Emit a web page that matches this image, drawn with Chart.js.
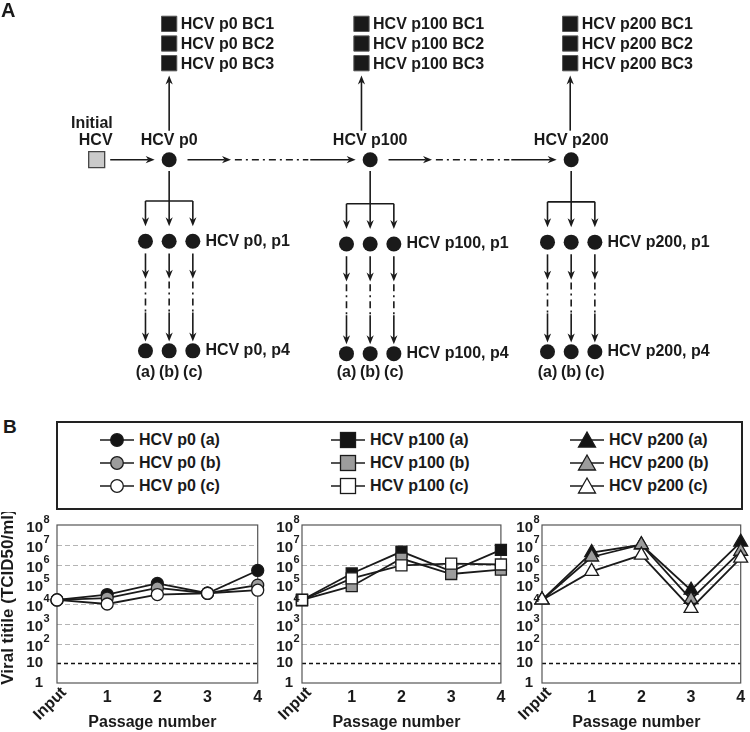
<!DOCTYPE html>
<html>
<head>
<meta charset="utf-8">
<script src="https://cdn.jsdelivr.net/npm/chart.js@4.4.1/dist/chart.umd.min.js"></script>
<style>
body{margin:0;background:#fff;}
#page{position:relative;width:750px;height:732px;overflow:hidden;font-family:"Liberation Sans",Arial,sans-serif;font-weight:bold;color:#1a1a1a;}
#page canvas{position:absolute;}
#legendBox{position:absolute;left:56px;top:421px;width:683px;height:85px;border:2px solid #222;}
.lg{position:absolute;display:flex;align-items:center;height:20px;font-size:16px;white-space:nowrap;}
.lg svg{margin-right:5px;}
</style>
</head>
<body>
<div id="page">
  <canvas id="schema" width="750" height="400" style="left:0;top:0"></canvas>
  <div style="position:absolute;left:3px;top:417px;font-size:19px;line-height:1">B</div>
  <div id="legendBox"></div>
  <canvas id="c0" width="265" height="220" style="left:0;top:512px"></canvas>
  <canvas id="c1" width="248" height="220" style="left:262px;top:512px"></canvas>
  <canvas id="c2" width="248" height="220" style="left:502px;top:512px"></canvas>
</div>
<script>
// ---- data ----
const stageNames = ['p0', 'p100', 'p200'];
const replicateNames = ['a', 'b', 'c'];
const barcodeNames = ['BC1', 'BC2', 'BC3'];
const subPassages = ['p1', 'p4'];

const passageLabels = ['Input', '1', '2', '3', '4'];
const yTickValues = [1, 10, 1e2, 1e3, 1e4, 1e5, 1e6, 1e7, 1e8];

// viral titer (TCID50/ml)
const titerP0a = [1.6e4, 3e4, 1.1e5, 3.5e4, 5e5];
const titerP0b = [1.6e4, 2e4, 6.5e4, 3.5e4, 9e4];
const titerP0c = [1.6e4, 1e4, 3e4, 3.5e4, 5e4];

const titerP100a = [1.6e4, 3.5e5, 4.5e6, 4.5e5, 5.5e6];
const titerP100b = [1.6e4, 8e4, 2e6, 3.3e5, 5.5e5];
const titerP100c = [1.6e4, 2e5, 9e5, 1.1e6, 1e6];

const titerP200a = [1.6e4, 4e6, 1e7, 5e4, 1.35e7];
const titerP200b = [1.6e4, 2.4e6, 1e7, 1.7e4, 4.7e6];
const titerP200c = [1.6e4, 4.5e5, 3e6, 6e3, 2.1e6];

// ---- look ----
const ink = '#1a1a1a';
const fills = ['#141414', '#9c9c9c', '#ffffff'];
const bold = px => `bold ${px}px "Liberation Sans", Arial, sans-serif`;

// ---- panel A (scheme) ----
const stageX = [162, 370, 578];
const stageShift = [0, 3, 1];
const bcX = [162, 361, 577];
const bcY = [12, 33, 54];
const nodeY = 157, initX = 87, barY = 201, p1Y = 244, p4Y = 361, abcY = 384, dx = 24.5;

function arrow(ctx, x1, y1, x2, y2) {
  const a = Math.atan2(y2 - y1, x2 - x1), L = 9, W = 3.6;
  const c = Math.cos(a), s = Math.sin(a);
  ctx.beginPath();
  ctx.moveTo(x1, y1);
  ctx.lineTo(x2 - c * L * 0.7, y2 - s * L * 0.7);
  ctx.stroke();
  ctx.beginPath();
  ctx.moveTo(x2, y2);
  ctx.lineTo(x2 - c * L - s * W, y2 - s * L + c * W);
  ctx.lineTo(x2 - c * L * 0.7, y2 - s * L * 0.7);
  ctx.lineTo(x2 - c * L + s * W, y2 - s * L - c * W);
  ctx.closePath();
  ctx.fill();
}
function dashDot(ctx, x1, y1, x2, y2) {
  ctx.save();
  ctx.setLineDash([7, 4, 2, 4]);
  ctx.beginPath();
  ctx.moveTo(x1, y1);
  ctx.lineTo(x2, y2);
  ctx.stroke();
  ctx.restore();
}
function seg(ctx, x1, y1, x2, y2) {
  ctx.beginPath();
  ctx.moveTo(x1, y1);
  ctx.lineTo(x2, y2);
  ctx.stroke();
}

const schemeDraw = {
  id: 'schemeDraw',
  beforeDatasetsDraw(chart) {
    const {ctx} = chart;
    const X = v => chart.scales.x.getPixelForValue(v);
    const Y = v => chart.scales.y.getPixelForValue(v);
    ctx.save();
    ctx.strokeStyle = ink;
    ctx.fillStyle = ink;
    ctx.lineWidth = 1.6;
    arrow(ctx, X(initX + 14), Y(nodeY), X(stageX[0] - 15), Y(nodeY));
    stageNames.forEach((s, i) => {
      const sx = stageX[i], sh = stageShift[i];
      if (i < stageNames.length - 1) {
        const nx = stageX[i + 1];
        arrow(ctx, X(sx + 19), Y(nodeY), X(sx + 64), Y(nodeY));
        dashDot(ctx, X(sx + 68), Y(nodeY), X(nx - 64), Y(nodeY));
        arrow(ctx, X(nx - 62), Y(nodeY), X(nx - 15), Y(nodeY));
      }
      arrow(ctx, X(bcX[i]), Y(126), X(bcX[i]), Y(67));
      seg(ctx, X(sx), Y(nodeY + 12), X(sx), Y(barY + sh));
      seg(ctx, X(sx - dx), Y(barY + sh), X(sx + dx), Y(barY + sh));
      replicateNames.forEach((r, j) => {
        const rx = sx + (j - 1) * dx;
        arrow(ctx, X(rx), Y(barY + sh), X(rx), Y(p1Y + sh - 16));
        arrow(ctx, X(rx), Y(p1Y + sh + 13), X(rx), Y(p1Y + sh + 40));
        dashDot(ctx, X(rx), Y(p1Y + sh + 43), X(rx), Y(p1Y + sh + 76));
        arrow(ctx, X(rx), Y(p1Y + sh + 76), X(rx), Y(p4Y + sh - 10));
      });
    });
    ctx.restore();
  },
  afterDatasetsDraw(chart) {
    const {ctx} = chart;
    const X = v => chart.scales.x.getPixelForValue(v);
    const Y = v => chart.scales.y.getPixelForValue(v);
    ctx.save();
    ctx.fillStyle = ink;
    ctx.font = bold(20);
    ctx.textAlign = 'left';
    ctx.textBaseline = 'alphabetic';
    ctx.fillText('A', 1, 17);
    ctx.font = bold(16);
    ctx.textBaseline = 'middle';
    ctx.textAlign = 'center';
    ctx.fillText('Initial', X(82), Y(118));
    ctx.fillText('HCV', X(86), Y(137));
    stageNames.forEach((s, i) => {
      const sx = stageX[i], sh = stageShift[i];
      ctx.textAlign = 'center';
      ctx.fillText(`HCV ${s}`, X(sx), Y(137));
      replicateNames.forEach((r, j) => ctx.fillText(`(${r})`, X(sx + (j - 1) * dx), Y(abcY)));
      ctx.textAlign = 'left';
      barcodeNames.forEach((b, k) => ctx.fillText(`HCV ${s} ${b}`, X(bcX[i] + 12), Y(bcY[k] + 1)));
      ctx.fillText(`HCV ${s}, ${subPassages[0]}`, X(sx + dx + 13), Y(p1Y + sh));
      ctx.fillText(`HCV ${s}, ${subPassages[1]}`, X(sx + dx + 13), Y(p4Y + sh));
    });
    ctx.restore();
  }
};

const replicateNodes = [];
stageNames.forEach((s, i) => replicateNames.forEach((r, j) => {
  replicateNodes.push({x: stageX[i] + (j - 1) * dx, y: p1Y + stageShift[i]});
  replicateNodes.push({x: stageX[i] + (j - 1) * dx, y: p4Y + stageShift[i]});
}));
const barcodeBoxes = [];
stageNames.forEach((s, i) => barcodeNames.forEach((b, k) => barcodeBoxes.push({x: bcX[i], y: bcY[k]})));

const nodeStyle = {pointStyle: 'circle', pointRadius: 7.5, pointBackgroundColor: ink, pointBorderColor: ink, pointBorderWidth: 0, clip: false};
new Chart(document.getElementById('schema'), {
  type: 'scatter',
  data: {
    datasets: [
      {data: [{x: initX, y: nodeY}], pointStyle: 'rect', pointRadius: 11.3, pointBackgroundColor: '#cacaca', pointBorderColor: '#444', pointBorderWidth: 1.3, clip: false},
      {data: stageNames.map((s, i) => ({x: stageX[i], y: nodeY})), ...nodeStyle},
      {data: replicateNodes, ...nodeStyle},
      {data: barcodeBoxes, pointStyle: 'rect', pointRadius: 10.8, pointBackgroundColor: ink, pointBorderColor: '#555', pointBorderWidth: 1, clip: false}
    ]
  },
  options: {
    responsive: false, animation: false, events: [],
    layout: {padding: 0},
    plugins: {legend: {display: false}, tooltip: {enabled: false}},
    scales: {
      x: {type: 'linear', min: 0, max: 750, display: false},
      y: {type: 'linear', min: 0, max: 400, reverse: true, display: false}
    }
  },
  plugins: [schemeDraw]
});

// ---- panel B legend ----
const markerShapes = ['circle', 'rect', 'triangle'];
function markerSvg(shape, fill) {
  let m;
  if (shape === 'circle') m = `<circle cx="17" cy="10" r="6.3" fill="${fill}" stroke="${ink}" stroke-width="1.3"/>`;
  else if (shape === 'rect') m = `<rect x="9.5" y="2.5" width="15" height="15" fill="${fill}" stroke="${ink}" stroke-width="1.3"/>`;
  else m = `<polygon points="17,2 25.5,17 8.5,17" fill="${fill}" stroke="${ink}" stroke-width="1.3"/>`;
  return `<svg width="34" height="20"><line x1="0" y1="10" x2="34" y2="10" stroke="${ink}" stroke-width="1.6"/>${m}</svg>`;
}
const legendBox = document.getElementById('legendBox');
const legendCols = [42, 273, 512];
const legendRows = [7, 30, 53];
stageNames.forEach((s, i) => replicateNames.forEach((r, j) => {
  const d = document.createElement('div');
  d.className = 'lg';
  d.style.left = legendCols[i] + 'px';
  d.style.top = legendRows[j] + 'px';
  d.innerHTML = markerSvg(markerShapes[i], fills[j]) + `<span>HCV ${s} (${r})</span>`;
  legendBox.appendChild(d);
}));

// ---- panel B charts ----
const axisDecor = {
  id: 'axisDecor',
  beforeDatasetsDraw(chart) {
    const {ctx, chartArea: a} = chart;
    const y = chart.scales.y;
    ctx.save();
    yTickValues.forEach(v => {
      if (v === yTickValues[0] || v === yTickValues[yTickValues.length - 1]) return;
      const py = Math.round(y.getPixelForValue(v)) + 0.5;
      ctx.beginPath();
      if (v === 10) { ctx.setLineDash([4, 3]); ctx.strokeStyle = '#111'; ctx.lineWidth = 1.6; }
      else { ctx.setLineDash([5, 3]); ctx.strokeStyle = '#b4b4b4'; ctx.lineWidth = 1; }
      ctx.moveTo(a.left, py);
      ctx.lineTo(a.right, py);
      ctx.stroke();
    });
    ctx.setLineDash([]);
    ctx.strokeStyle = '#555';
    ctx.lineWidth = 1.2;
    ctx.strokeRect(a.left, a.top, a.right - a.left, a.bottom - a.top);
    ctx.restore();
  },
  afterDraw(chart, args, opts) {
    const {ctx, chartArea: a} = chart;
    const x = chart.scales.x, y = chart.scales.y;
    ctx.save();
    ctx.fillStyle = ink;
    const lx = a.left - opts.gap;
    yTickValues.forEach(v => {
      const py = y.getPixelForValue(v);
      const e = Math.round(Math.log10(v));
      ctx.textBaseline = 'middle';
      ctx.textAlign = 'right';
      ctx.font = bold(15);
      if (e < 2) {
        ctx.fillText(String(v), lx, py);
      } else {
        ctx.fillText('10', lx, py + 3);
        ctx.font = bold(11);
        ctx.textAlign = 'left';
        ctx.fillText(String(e), lx + 0.5, py - 5);
      }
    });
    ctx.font = bold(16);
    passageLabels.forEach((lab, i) => {
      const px = x.getPixelForValue(i);
      if (i === 0) {
        ctx.save();
        ctx.translate(px + 7, a.bottom + 7);
        ctx.rotate(-Math.PI / 4);
        ctx.textAlign = 'right';
        ctx.textBaseline = 'middle';
        ctx.fillText(lab, 0, 0);
        ctx.restore();
      } else {
        ctx.textAlign = 'center';
        ctx.textBaseline = 'middle';
        ctx.fillText(lab, px, a.bottom + 15);
      }
    });
    ctx.textAlign = 'center';
    ctx.fillText('Passage number', (a.left + a.right) / 2 - 5, a.bottom + 40);
    if (opts.title) {
      ctx.save();
      ctx.translate(8, (a.top + a.bottom) / 2 - 7);
      ctx.rotate(-Math.PI / 2);
      ctx.font = bold(17);
      ctx.fillText('Viral titile (TCID50/ml)', 0, 0);
      ctx.restore();
    }
    ctx.restore();
  }
};

const panels = [
  {id: 'c0', stage: 'p0', series: [titerP0a, titerP0b, titerP0c], shape: 'circle', radius: 6, yWidth: 57, padRight: 7, gap: 14, title: true},
  {id: 'c1', stage: 'p100', series: [titerP100a, titerP100b, titerP100c], shape: 'rect', radius: 7.8, yWidth: 40, padRight: 7, gap: 9, title: false},
  {id: 'c2', stage: 'p200', series: [titerP200a, titerP200b, titerP200c], shape: 'triangle', radius: 8, yWidth: 40, padRight: 3, gap: 9, title: false}
];

panels.forEach(p => {
  new Chart(document.getElementById(p.id), {
    type: 'line',
    data: {
      labels: passageLabels,
      datasets: p.series.map((vals, j) => ({
        label: `HCV ${p.stage} (${replicateNames[j]})`,
        data: vals,
        order: 2 - j,
        borderColor: ink,
        borderWidth: 1.8,
        tension: 0,
        fill: false,
        clip: false,
        pointStyle: p.shape,
        pointRadius: p.radius,
        pointHoverRadius: p.radius,
        pointBackgroundColor: fills[j],
        pointBorderColor: ink,
        pointBorderWidth: 1.3
      }))
    },
    options: {
      responsive: false, animation: false, events: [],
      layout: {padding: {top: 13, right: p.padRight, left: 0, bottom: 0}},
      plugins: {legend: {display: false}, tooltip: {enabled: false}, axisDecor: {gap: p.gap, title: p.title}},
      scales: {
        x: {type: 'category', offset: false, grid: {display: false}, border: {display: false}, ticks: {display: false},
            afterFit(s) { s.height = 49; }},
        y: {type: 'logarithmic', min: 1, max: 1e8, grid: {display: false}, border: {display: false}, ticks: {display: false},
            afterFit(s) { s.width = p.yWidth; }}
      }
    },
    plugins: [axisDecor]
  });
});
</script>
</body>
</html>
